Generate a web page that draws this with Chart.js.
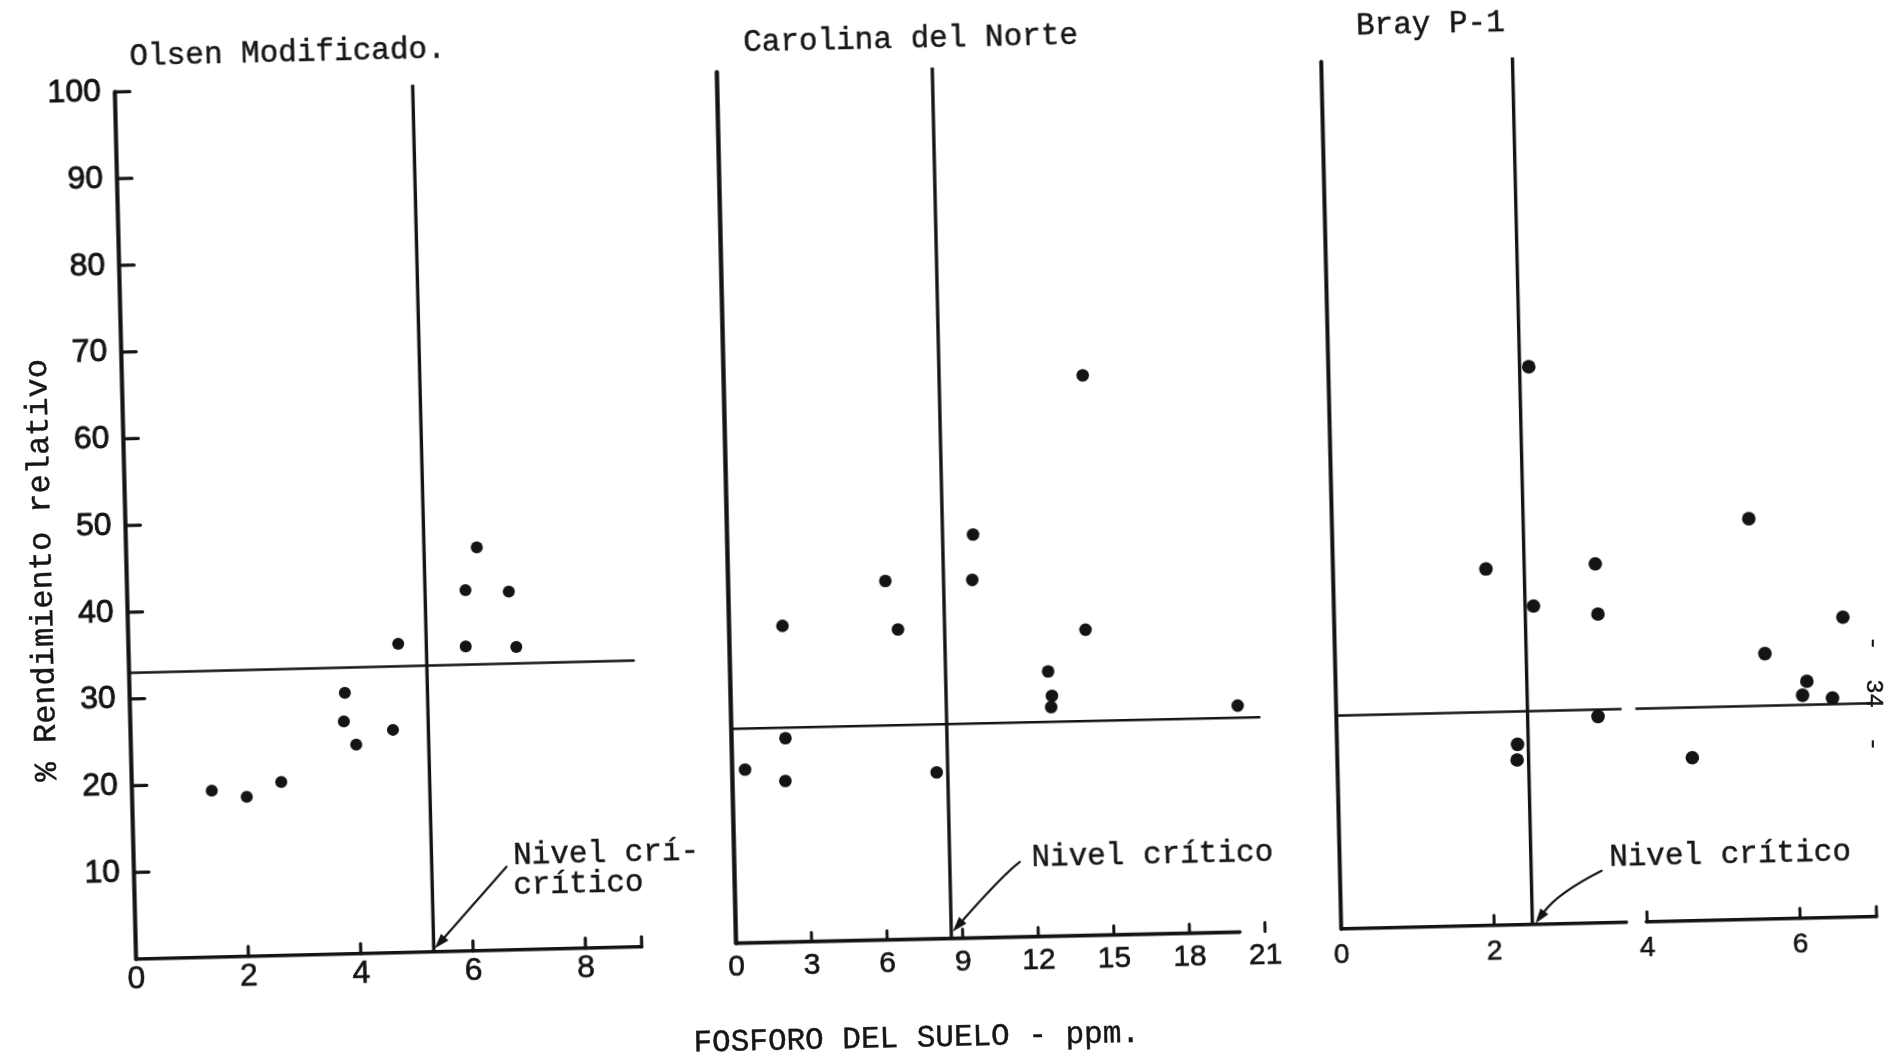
<!DOCTYPE html>
<html lang="es">
<head>
<meta charset="utf-8">
<title>Fósforo del suelo y rendimiento relativo</title>
<script src="https://cdn.jsdelivr.net/npm/chart.js@4.4.1/dist/chart.umd.min.js"></script>
<style>
  html, body { margin: 0; padding: 0; background: #fff; }
  #page { position: relative; width: 1895px; height: 1059px; overflow: hidden; background: #fff; }
  .frame { position: absolute; left: 0; top: 0; width: 1895px; height: 1059px; }
  .frame canvas { position: absolute; left: 0; top: 0; }
  .tw { position: absolute; font-family: 'Liberation Mono', 'DejaVu Sans Mono', monospace;
        font-size: 31px; line-height: 1; white-space: pre; color: #161616;
        -webkit-text-stroke: 0.45px #161616; }
</style>
</head>
<body>
<div id="page">
  <!-- each sheet is drawn square, then turned slightly as on the printed page -->
  <div class="frame" style="transform-origin: 389px 524px; transform: rotate(-1.40deg);">
    <canvas id="chartOlsen" width="1895" height="1059"></canvas>
    <div class="tw" style="left:141px; top:34.6px;">Olsen Modificado.</div>
    <div class="tw" style="left:505px; top:842.8px;">Nivel crí-</div>
    <div class="tw" style="left:504.4px; top:873.2px;">crítico</div>
    <div class="tw" style="left:25.8px; top:773.4px; font-size:32px; transform-origin:0 0; transform:rotate(-90deg);">% Rendimiento relativo</div>
  </div>
  <div class="frame" style="transform-origin: 985px 508px; transform: rotate(-1.26deg);">
    <canvas id="chartCarolina" width="1895" height="1059"></canvas>
    <div class="tw" style="left:753.5px; top:21.9px;">Carolina del Norte</div>
    <div class="tw" style="left:1023.7px; top:842.6px;">Nivel crítico</div>
    <div class="tw" style="left:681.9px; top:1020.6px;">FOSFORO DEL SUELO - ppm.</div>
  </div>
  <div class="frame" style="transform-origin: 1600px 500px; transform: rotate(-1.32deg);">
    <canvas id="chartBray" width="1895" height="1059"></canvas>
    <div class="tw" style="left:1367px; top:5px;">Bray P-1</div>
    <div class="tw" style="left:1600.9px; top:841.8px;">Nivel crítico</div>
  </div>
  <div class="tw" style="left:1885px; top:636px; font-size:24px; transform-origin:0 0; transform:rotate(90deg);">-  34  -</div>
</div>

<script>
// Soil phosphorus (ppm) against relative yield (%), one array pair per extraction method
const olsenP        = [1.42, 2.04, 2.66, 3.83, 3.80, 4.01, 4.67, 4.80, 6.02, 6.24, 6.00, 6.79, 6.90, 9.30];
const olsenYield    = [19.2, 18.4, 20.0, 30.1, 26.8, 24.1, 25.7, 35.6, 41.6, 46.5, 35.1, 41.3, 34.9, 64.4];

const carolinaP     = [9.76, 9.69, 6.24, 2.12, 6.70, 14.14, 12.62, 12.75, 12.71, 20.11, 2.14, 0.51, 2.10, 8.11, 14.25];
const carolinaYield = [46.3, 41.1, 41.2, 36.3, 35.6, 35.1, 30.4, 27.6, 26.3, 26.0, 23.4, 19.9, 18.5, 19.1, 64.3];

const brayP         = [5.45, 2.00, 3.43, 2.61, 3.45, 6.65, 5.62, 6.16, 6.10, 6.49, 3.42, 2.36, 2.35, 4.64, 2.62];
const brayYield     = [46.2, 41.1, 41.4, 36.7, 35.6, 34.6, 30.6, 27.3, 25.7, 25.3, 23.8, 20.8, 19.0, 18.8, 64.3];

// Critical level of each method: soil P (vertical line) and relative yield (horizontal line)
const criticalP     = [5.3, 8.55, 2.5];
const criticalYield = [33, 24.6, 24.6];

// Tick labels
const yieldTicks    = [10, 20, 30, 40, 50, 60, 70, 80, 90, 100];
const olsenTicks    = [0, 2, 4, 6, 8];
const carolinaTicks = [0, 3, 6, 9, 12, 15, 18, 21];
const brayTicks     = [0, 2, 4, 6];

const INK = '#141414';
const PAGE_W = 1895, PAGE_H = 1059;
const Y_BOX = 100, X_BOX = 60;
const TICK_FONT = "'Liberation Sans', Arimo, sans-serif";

// Hand-ruled axes, inward tick marks and the pointer arrow, all placed through the chart scales
const paperAxes = {
  id: 'paperAxes',
  afterDatasetsDraw(chart, args, o) {
    const ctx = chart.ctx;
    const xs = chart.scales.x, ys = chart.scales.y;
    const px = v => xs.getPixelForValue(v);
    const py = v => ys.getPixelForValue(v);
    ctx.save();
    ctx.strokeStyle = INK;
    ctx.fillStyle = INK;
    ctx.lineCap = 'round';

    ctx.lineWidth = o.yAxisWidth;
    ctx.beginPath();
    ctx.moveTo(px(0), py(0));
    ctx.lineTo(px(0), py(ys.max));
    ctx.stroke();

    ctx.lineWidth = o.xAxisWidth;
    ctx.beginPath();
    for (const [a, b] of o.xSegments) {
      ctx.moveTo(px(a), py(0));
      ctx.lineTo(px(b), py(0));
    }
    ctx.stroke();

    ctx.lineWidth = o.markWidth;
    ctx.beginPath();
    for (const v of o.xMarks) {
      ctx.moveTo(px(v), py(0));
      ctx.lineTo(px(v), py(0) - o.xMarkLen);
    }
    for (const v of o.yMarks) {
      ctx.moveTo(px(0), py(v));
      ctx.lineTo(px(0) + o.yMarkLen, py(v));
    }
    ctx.stroke();

    const a = o.arrow;
    const x0 = px(a.from[0]), y0 = py(a.from[1]);
    const x1 = px(a.to[0]), y1 = py(a.to[1]);
    const hasCtl = !!a.via;
    const cx = hasCtl ? px(a.via[0]) : x0, cy = hasCtl ? py(a.via[1]) : y0;
    const ang = Math.atan2(y1 - cy, x1 - cx);
    const head = 15, half = 5;
    const bx = x1 - head * Math.cos(ang), by = y1 - head * Math.sin(ang);
    ctx.lineWidth = 2.2;
    ctx.beginPath();
    ctx.moveTo(x0, y0);
    if (hasCtl) ctx.quadraticCurveTo(cx, cy, bx, by); else ctx.lineTo(bx, by);
    ctx.stroke();
    ctx.beginPath();
    ctx.moveTo(x1, y1);
    ctx.lineTo(bx + half * Math.sin(ang), by - half * Math.cos(ang));
    ctx.lineTo(bx - half * Math.sin(ang), by + half * Math.cos(ang));
    ctx.closePath();
    ctx.fill();
    ctx.restore();
  }
};

function pairUp(xs, ys) {
  return xs.map((x, i) => ({ x: x, y: ys[i] }));
}

function yieldLine(level, xMax, gap) {
  if (!gap) return [{ x: 0, y: level }, { x: xMax, y: level }];
  return [{ x: 0, y: level }, { x: gap[0], y: level }, { x: (gap[0] + gap[1]) / 2, y: null },
          { x: gap[1], y: level }, { x: xMax, y: level }];
}

function drawPanel(p) {
  const a = p.area;
  new Chart(document.getElementById(p.canvas), {
    type: 'scatter',
    data: {
      datasets: [
        { data: pairUp(p.xs, p.ys), pointRadius: p.dot, pointHoverRadius: p.dot,
          backgroundColor: INK, borderColor: INK, borderWidth: 0, clip: false },
        { data: [{ x: p.critP, y: 0 }, { x: p.critP, y: 100 }], showLine: true,
          borderColor: INK, borderWidth: 3.4, pointRadius: 0, clip: false },
        { data: yieldLine(p.critY, p.hEnd, p.hGap), showLine: true, spanGaps: false,
          borderColor: INK, borderWidth: 2.5, pointRadius: 0, clip: false }
      ]
    },
    options: {
      responsive: false,
      animation: false,
      devicePixelRatio: 1,
      events: [],
      layout: {
        autoPadding: false,
        padding: { left: a.left - Y_BOX, top: a.top, right: PAGE_W - a.right, bottom: PAGE_H - a.bottom - X_BOX }
      },
      plugins: { legend: { display: false }, tooltip: { enabled: false }, paperAxes: p.axes },
      scales: {
        x: {
          type: 'linear', min: 0, max: p.xMax,
          grid: { display: false, drawTicks: false }, border: { display: false },
          ticks: { color: INK, padding: p.xPad, maxRotation: 0, minRotation: 0, autoSkip: false,
                   textStrokeColor: INK, textStrokeWidth: 0.6,
                   font: { family: TICK_FONT, size: p.xFont } },
          afterBuildTicks: s => { s.ticks = p.xTicks.map(v => ({ value: v })); },
          afterFit: s => { s.height = X_BOX; }
        },
        y: {
          type: 'linear', min: 0, max: 100,
          grid: { display: false, drawTicks: false }, border: { display: false },
          ticks: { display: p.showY, color: INK, padding: 14,
                   textStrokeColor: INK, textStrokeWidth: 0.9,
                   font: { family: TICK_FONT, size: 32 } },
          afterBuildTicks: s => { s.ticks = yieldTicks.map(v => ({ value: v })); },
          afterFit: s => { s.width = Y_BOX; }
        }
      }
    },
    plugins: [paperAxes]
  });
}

drawPanel({
  canvas: 'chartOlsen', xs: olsenP, ys: olsenYield, xTicks: olsenTicks, showY: true,
  xMax: 9, hEnd: 9, critP: criticalP[0], critY: criticalYield[0], dot: 6, xPad: 1, xFont: 32,
  area: { left: 125.5, top: 85.4, right: 631.3, bottom: 952.8 },
  axes: { yAxisWidth: 4.2, xAxisWidth: 3.6, markWidth: 3.2, xMarkLen: 10, yMarkLen: 15,
          xSegments: [[0, 9]], xMarks: [2, 4, 6, 8, 9], yMarks: yieldTicks,
          arrow: { from: [6.63, 9.6], to: [5.32, 0.4] } }
});

drawPanel({
  canvas: 'chartCarolina', xs: carolinaP, ys: carolinaYield, xTicks: carolinaTicks, showY: false,
  xMax: 21, hEnd: 21, critP: criticalP[1], critY: criticalYield[1], dot: 6.3, xPad: 6, xFont: 30,
  area: { left: 726.5, top: 66.5, right: 1255.7, bottom: 937.6 },
  axes: { yAxisWidth: 4.4, xAxisWidth: 3.6, markWidth: 3, xMarkLen: 9, yMarkLen: 0,
          xSegments: [[0, 20]], xMarks: [3, 6, 9, 12, 15, 18, 21], yMarks: [],
          arrow: { from: [11.33, 8.6], via: [10.7, 7.3], to: [8.61, 0.8] } }
});

drawPanel({
  canvas: 'chartBray', xs: brayP, ys: brayYield, xTicks: brayTicks, showY: false,
  xMax: 7, hEnd: 7, hGap: [3.73, 3.91], critP: criticalP[2], critY: criticalYield[2], dot: 6.8, xPad: 9.5, xFont: 28,
  area: { left: 1331.4, top: 55.6, right: 1866.9, bottom: 922.7 },
  axes: { yAxisWidth: 4, xAxisWidth: 3.4, markWidth: 3, xMarkLen: 10, yMarkLen: 0,
          xSegments: [[0, 3.73], [3.99, 7]], xMarks: [2, 4, 6, 7], yMarks: [],
          arrow: { from: [3.42, 6.0], via: [2.85, 3.6], to: [2.54, 0.1] } }
});
</script>
</body>
</html>
